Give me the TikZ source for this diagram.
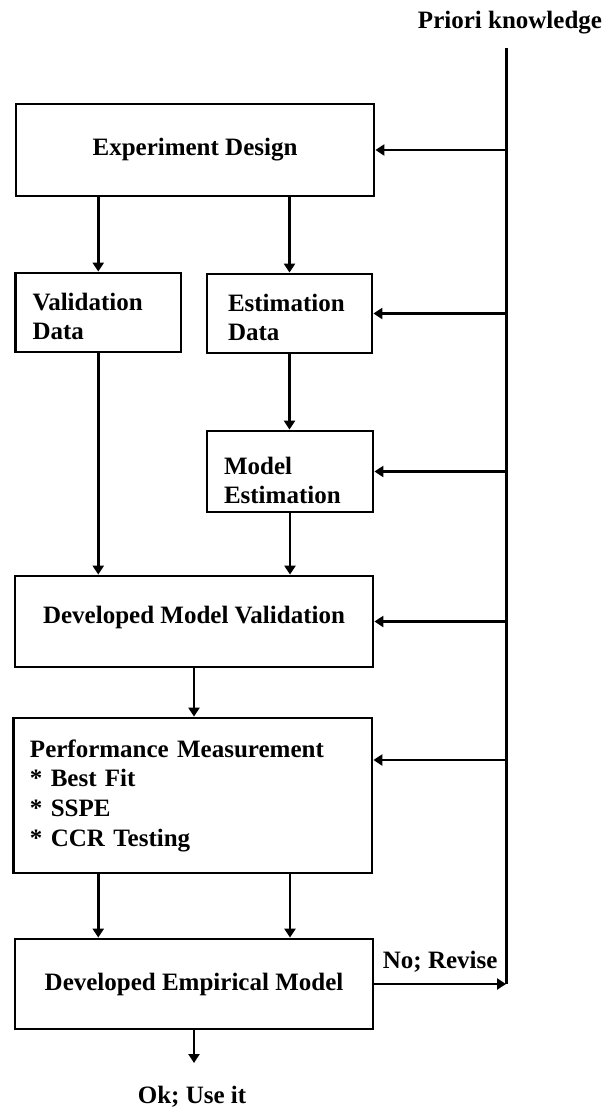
\documentclass[tikz,border=0pt]{standalone}
\usepackage{fontspec}
\setmainfont{Liberation Serif}
\usetikzlibrary{arrows.meta}
\begin{document}
\begin{tikzpicture}[x=1pt,y=-1pt,
  every node/.style={font=\bfseries\fontsize{25}{29.7}\selectfont},
  box/.style={draw, line width=2.8pt, rectangle, inner sep=0pt},
  lbox/.style={box, align=left},
  arr/.style={line width=2.8pt, -{Triangle[width=11pt,length=9pt]}},
  bus/.style={line width=3pt}]
\useasboundingbox (0,0) rectangle (604,1109);

% boxes
\node[box, minimum width=358pt, minimum height=92pt] (ed) at (195,150) {Experiment Design};
\node[lbox, inner xsep=17pt, text width=131.5pt, minimum height=79pt, text height=25pt] (vd) at (98.25,312.5) {Validation\\Data};
\node[lbox, inner xsep=21pt, text width=123pt, minimum height=79pt, text height=25pt] (esd) at (289.5,313.5) {Estimation\\Data};
\node[lbox, inner xsep=17pt, text width=132pt, minimum height=81pt, text height=35pt] (me) at (290,471.5) {Model\\Estimation};
\node[box, minimum width=358pt, minimum height=91pt, text depth=13pt] (dmv) at (194,621.5) {Developed Model Validation};
\node[lbox, inner xsep=16.5pt, text width=325.5pt, minimum height=155pt] (perf) at (192.75,795.5) {Performance Measurement\\{}* Best Fit\\{}* SSPE\\{}* CCR Testing};
\node[box, minimum width=358pt, minimum height=90pt] (dem) at (194,984) {Developed Empirical Model};

% texts
\node (pk) at (510,23) {Priori knowledge};
\node (ok) at (192,1097) {Ok; Use it};

% main flow
\draw[arr] (ed.south -| vd.north) -- (vd.north);
\draw[arr] (ed.south -| esd.north) -- (esd.north);
\draw[arr] (esd.south) -- (esd.south |- me.north);
\draw[arr] (vd.south) -- (vd.south |- dmv.north);
\draw[arr] (me.south) -- (me.south |- dmv.north);
\draw[arr] (dmv.south) -- (dmv.south |- perf.north);
\draw[arr] (perf.south -| vd.south) -- (dem.north -| vd.south);
\draw[arr] (perf.south -| me.south) -- (dem.north -| me.south);
\coordinate (okend) at (194,1063);
\draw[arr] (dem.south) -- (okend);

% priori knowledge bus
\coordinate (bt) at (506,48);
\draw[bus] (bt) -- (bt |- dem.east);
\draw[arr] (bt |- ed.east) -- (ed.east);
\draw[arr] (bt |- esd.east) -- (esd.east);
\draw[arr] (bt |- me.east) -- (me.east);
\draw[arr] (bt |- dmv.east) -- (dmv.east);
\coordinate (pin) at (506,760);
\draw[arr] (pin) -- (pin -| perf.east);
\draw[arr] (dem.east) -- node[above=10pt, inner sep=0pt] (nr) {No; Revise} (dem.east -| bt);
\end{tikzpicture}
\end{document}
